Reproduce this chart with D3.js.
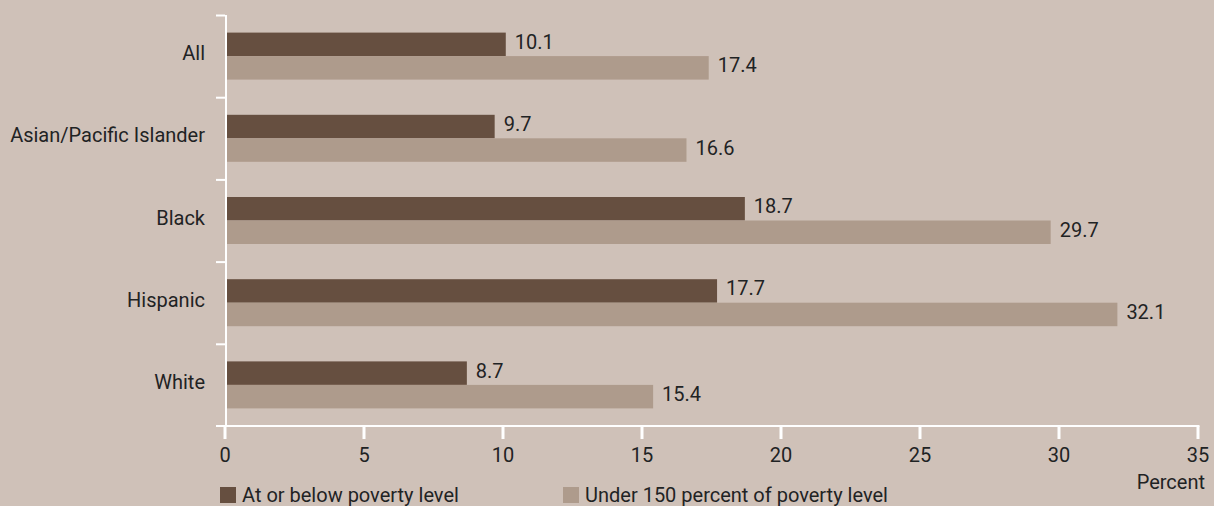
<!DOCTYPE html>
<html>
<head>
<meta charset="utf-8">
<script src="https://cdn.jsdelivr.net/npm/d3@7"></script>
<style>
  html, body { margin: 0; padding: 0; background: #cfc1b8; }
  svg { display: block; font-family: Roboto, "Open Sans", sans-serif; }
  text { fill: #1f2324; }
</style>
</head>
<body>
<svg id="chart" width="1214" height="506"></svg>
<script>
const categories = ['All', 'Asian/Pacific Islander', 'Black', 'Hispanic', 'White']
const povertyValues = [10.1, 9.7, 18.7, 17.7, 8.7]
const under150Values = [17.4, 16.6, 29.7, 32.1, 15.4]
const seriesNames = ['At or below poverty level', 'Under 150 percent of poverty level']
const xTicks = [0, 5, 10, 15, 20, 25, 30, 35]

const colors = ['#664f40', '#ae9b8c']
const fontSize = 20
const svg = d3.select('#chart')

const x = d3.scaleLinear().domain([0, 35]).range([225, 1198])
const y = d3.scaleBand().domain(categories).range([15, 426]).padding(0)

const rows = categories.map((c, i) => ({ c, vals: [povertyValues[i], under150Values[i]] }))
const barH = 23.5

// bars
const groups = svg.append('g').selectAll('g')
  .data(rows)
  .join('g')
  .attr('transform', d => `translate(0,${y(d.c) + y.bandwidth() / 2 - barH})`)

groups.selectAll('rect')
  .data(d => d.vals)
  .join('rect')
  .attr('x', x(0) + 2)
  .attr('y', (d, i) => i * barH)
  .attr('width', d => x(d) - x(0) - 2)
  .attr('height', barH)
  .attr('fill', (d, i) => colors[i])

groups.selectAll('text')
  .data(d => d.vals)
  .join('text')
  .attr('x', d => x(d) + 9)
  .attr('y', (d, i) => i * barH + barH / 2 + 4.5)
  .attr('font-size', fontSize)
  .text(d => d.toFixed(1))

// y axis
const yAxis = svg.append('g')
yAxis.append('line')
  .attr('x1', x(0) + 1).attr('x2', x(0) + 1)
  .attr('y1', 15).attr('y2', 427)
  .attr('stroke', '#fff').attr('stroke-width', 2)
yAxis.selectAll('.yt')
  .data(categories)
  .join('line')
  .attr('x1', x(0) - 9).attr('x2', x(0))
  .attr('y1', d => y(d) + 0.5).attr('y2', d => y(d) + 0.5)
  .attr('stroke', '#fff').attr('stroke-width', 2)
yAxis.selectAll('text')
  .data(categories)
  .join('text')
  .attr('x', 205)
  .attr('y', d => y(d) + y.bandwidth() / 2 + 4)
  .attr('text-anchor', 'end')
  .attr('font-size', fontSize)
  .text(d => d)

// x axis
const xAxis = svg.append('g').attr('transform', 'translate(0,426)')
xAxis.append('line')
  .attr('x1', x(0) - 9).attr('x2', x(35) + 1.5)
  .attr('stroke', '#fff').attr('stroke-width', 2)
xAxis.selectAll('.xt')
  .data(xTicks)
  .join('line')
  .attr('x1', d => x(d)).attr('x2', d => x(d))
  .attr('y1', 0).attr('y2', 13)
  .attr('stroke', '#fff').attr('stroke-width', 3)
xAxis.selectAll('text')
  .data(xTicks)
  .join('text')
  .attr('x', d => x(d))
  .attr('y', 36)
  .attr('text-anchor', 'middle')
  .attr('font-size', fontSize)
  .text(d => d)
svg.append('text')
  .attr('x', 1205).attr('y', 489)
  .attr('text-anchor', 'end')
  .attr('font-size', fontSize)
  .text('Percent')

// legend (bottom edge clips the descenders, as in the original)
const legendX = [220, 563]
const legend = svg.append('g').selectAll('g')
  .data(seriesNames)
  .join('g')
  .attr('transform', (d, i) => `translate(${legendX[i]},487)`)
legend.append('rect')
  .attr('width', 16).attr('height', 16)
  .attr('fill', (d, i) => colors[i])
legend.append('text')
  .attr('x', 22).attr('y', 15)
  .attr('font-size', fontSize)
  .text(d => d)
</script>
</body>
</html>
